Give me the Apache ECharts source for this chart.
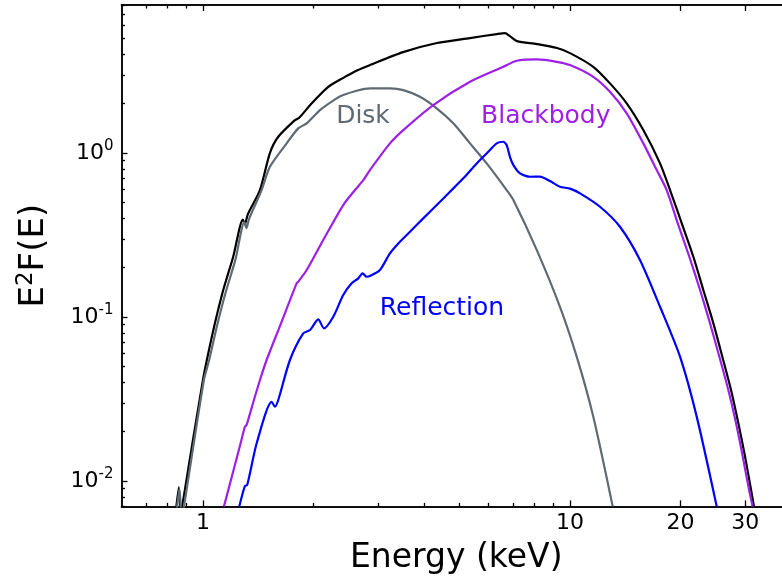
<!DOCTYPE html>
<html><head><meta charset="utf-8">
<script src="https://cdn.jsdelivr.net/npm/echarts@6/dist/echarts.min.js"></script>
<style>html,body{margin:0;padding:0;background:#fff;overflow:hidden}#c{width:782px;height:578px}</style>
</head><body><div id="c"></div>
<script>
// ---- data (energy in keV, E^2 F(E)) ----
const totalE = [0.834,0.860,0.871,0.878,1.0,1.025,1.078,1.136,1.209,1.285,1.301,1.326,1.43,1.522,1.604,1.781,1.826,1.982,2.191,2.407,2.645,2.851,3.508,4.342,5.341,6.32,6.65,6.86,7.17,8.13,9.22,10,11.57,12.85,14.27,15.84,17.59,18.73,20.16,21.68,23.08,24.58,26.0,27.46,28.75,29.99,31.14,31.7];
const totalF = [0.00502,0.00915,0.00578,0.0070,0.0413,0.0547,0.0915,0.1461,0.2332,0.393,0.369,0.425,0.595,1.0,1.257,1.589,1.635,2.018,2.526,2.866,3.208,3.441,4.13,4.69,5.03,5.32,5.39,5.17,4.82,4.62,4.37,4.07,3.359,2.661,2.01,1.381,0.865,0.595,0.3726,0.2332,0.1461,0.0915,0.0573,0.0359,0.0225,0.01406,0.00881,0.0070];

const diskE = [0.839,0.863,0.876,0.888,1.006,1.040,1.092,1.152,1.226,1.297,1.314,1.335,1.445,1.522,1.691,1.818,1.917,2.084,2.313,2.411,2.624,2.851,3.232,3.514,3.903,4.334,4.809,5.341,5.93,6.72,7.01,8.12,9.39,10.43,11.57,13.07];
const diskF = [0.00502,0.00894,0.00578,0.0070,0.0413,0.0547,0.0881,0.140,0.224,0.3795,0.349,0.396,0.595,0.825,1.146,1.415,1.518,1.829,2.156,2.258,2.399,2.481,2.481,2.422,2.205,1.874,1.518,1.146,0.865,0.595,0.517,0.256,0.1155,0.0573,0.0247,0.0070];

const bbE = [1.141,1.261,1.301,1.315,1.377,1.430,1.491,1.621,1.800,1.818,1.917,2.127,2.411,2.596,2.734,2.851,3.232,3.514,4.242,5.341,6.58,7.16,8.12,9.20,10,11.57,12.85,14.27,15.84,17.23,18.34,19.66,21.14,22.61,24.07,25.52,27.0,28.34,29.56,30.75,31.46];
const bbF = [0.0070,0.01634,0.02143,0.02196,0.0312,0.0413,0.0547,0.0881,0.1605,0.1641,0.1935,0.295,0.482,0.595,0.684,0.788,1.146,1.381,1.962,2.721,3.359,3.655,3.727,3.603,3.441,2.919,2.365,1.746,1.146,0.788,0.595,0.3726,0.2332,0.1461,0.0915,0.0573,0.0359,0.0225,0.01406,0.00881,0.0070];

const reflE = [1.256,1.301,1.320,1.401,1.539,1.571,1.604,1.726,1.876,1.957,2.062,2.137,2.265,2.411,2.542,2.650,2.724,2.793,2.851,3.035,3.232,3.441,3.665,3.983,4.334,4.710,5.121,5.569,6.053,6.313,6.58,6.72,6.86,7.01,7.31,7.78,8.28,8.82,9.39,10,10.65,12.07,13.68,15.51,17.59,19.94,22.14,25.10];
const reflF = [0.0070,0.00932,0.00945,0.01698,0.0304,0.0284,0.0312,0.0547,0.0795,0.0833,0.0968,0.0853,0.1004,0.1362,0.1605,0.1722,0.1847,0.1761,0.1778,0.1935,0.2446,0.2878,0.3312,0.3996,0.4819,0.5808,0.7010,0.865,1.043,1.146,1.172,1.119,0.949,0.845,0.752,0.717,0.719,0.675,0.623,0.607,0.568,0.4707,0.3553,0.223,0.1155,0.0573,0.0247,0.0070];

// component labels (name, energy, flux)
const labelNames = ['Disk', 'Blackbody', 'Reflection'];
const labelE = [2.729, 8.59, 4.48];
const labelF = [1.676, 1.676, 0.1135];

// axis ticks
const xMajor = [1, 10, 20, 30];
const xMinor = [0.7, 0.8, 0.9, 2, 3, 4, 5, 6, 7, 8, 9, 40];
const yMajor = [0.01, 0.1, 1];
const yMinor = [0.007,0.008,0.009,0.02,0.03,0.04,0.05,0.06,0.07,0.08,0.09,0.2,0.3,0.4,0.5,0.6,0.7,0.8,0.9,2,3,4,5,6,7,8];
const xMin = 0.6, xMax = 40, yMin = 0.007, yMax = 8;

const colTotal = '#000000', colDisk = '#5f6a72', colBB = '#9d1fe8', colRefl = '#0000ff';
const FONT = 'DejaVu Sans';

function pairs(a, b) { return a.map((v, i) => [v, b[i]]); }

function xAx(pos, ticks, len, labels) {
  return {
    type: 'log', logBase: 10, position: pos, min: xMin, max: xMax,
    axisLine: { show: true, onZero: false, lineStyle: { color: '#000', width: 1.5 } },
    axisTick: { show: true, inside: true, length: len, customValues: ticks, lineStyle: { color: '#000', width: 1.3 } },
    axisLabel: labels ? {
      show: true, customValues: ticks, margin: 6, color: '#000', fontFamily: FONT, fontSize: 22,
      formatter: v => String(+(+v).toPrecision(3))
    } : { show: false },
    splitLine: { show: false }, minorTick: { show: false }, minorSplitLine: { show: false }
  };
}
function yAx(ticks, len, labels) {
  return {
    type: 'log', logBase: 10, position: 'left', min: yMin, max: yMax,
    axisLine: { show: true, onZero: false, lineStyle: { color: '#000', width: 1.5 } },
    axisTick: { show: true, inside: true, length: len, customValues: ticks, lineStyle: { color: '#000', width: 1.3 } },
    axisLabel: labels ? {
      show: true, customValues: ticks, margin: 8, color: '#000', fontFamily: FONT, fontSize: 22, lineHeight: 28,
      formatter: v => '{m|10}{s|' + Math.round(Math.log10(v)) + '}',
      rich: {
        m: { fontFamily: FONT, fontSize: 22, lineHeight: 28, color: '#000' },
        s: { fontFamily: FONT, fontSize: 15, lineHeight: 15, verticalAlign: 'top', color: '#000' }
      }
    } : { show: false },
    splitLine: { show: false }, minorTick: { show: false }, minorSplitLine: { show: false }
  };
}

const xAxes = [xAx('bottom', xMajor, 6, true), xAx('bottom', xMinor, 3.5, false), xAx('top', xMajor, 6, false), xAx('top', xMinor, 3.5, false)];
xAxes[0].name = 'Energy (keV)';
xAxes[0].nameLocation = 'middle';
xAxes[0].nameGap = 36;
xAxes[0].nameTextStyle = { fontFamily: FONT, fontSize: 33, color: '#000' };

const yAxes = [yAx(yMajor, 6, true), yAx(yMinor, 3.5, false)];
yAxes[0].name = '{m|E}{s|2}{m|F(E)}';
yAxes[0].nameLocation = 'middle';
yAxes[0].nameRotate = 90;
yAxes[0].nameGap = 67;
yAxes[0].nameTextStyle = {
  fontFamily: FONT, fontSize: 33, color: '#000',
  rich: {
    m: { fontFamily: FONT, fontSize: 34, lineHeight: 40, color: '#000' },
    s: { fontFamily: FONT, fontSize: 23, lineHeight: 23, verticalAlign: 'top', color: '#000' }
  }
};

function lineSeries(name, E, F, color) {
  return {
    name, type: 'line', xAxisIndex: 0, yAxisIndex: 0, data: pairs(E, F),
    showSymbol: false, symbol: 'none', smooth: 0.25, clip: true, animation: false,
    lineStyle: { color, width: 2.2, join: 'round' }
  };
}
const labelColors = [colDisk, colBB, colRefl];

const chart = echarts.init(document.getElementById('c'), null, { renderer: 'canvas' });
chart.setOption({
  animation: false,
  backgroundColor: '#fff',
  grid: { left: 121.5, top: 5, width: 669.5, height: 501.4, containLabel: false, outerBoundsMode: 'none' },
  xAxis: xAxes,
  yAxis: yAxes,
  series: [
    lineSeries('Total', totalE, totalF, colTotal),
    lineSeries('Disk', diskE, diskF, colDisk),
    lineSeries('Blackbody', bbE, bbF, colBB),
    lineSeries('Reflection', reflE, reflF, colRefl),
    {
      type: 'scatter', xAxisIndex: 0, yAxisIndex: 0, symbolSize: 0, animation: false, silent: true,
      itemStyle: { opacity: 1 },
      data: labelNames.map((n, i) => ({
        name: n, value: [labelE[i], labelF[i]],
        itemStyle: { opacity: 1 },
        label: { show: true, position: 'inside', formatter: n, color: labelColors[i], opacity: 1, fontFamily: FONT, fontSize: 25,
                 textBorderWidth: 0, textBorderColor: 'transparent', textShadowBlur: 0 }
      }))
    }
  ]
});
</script></body></html>
